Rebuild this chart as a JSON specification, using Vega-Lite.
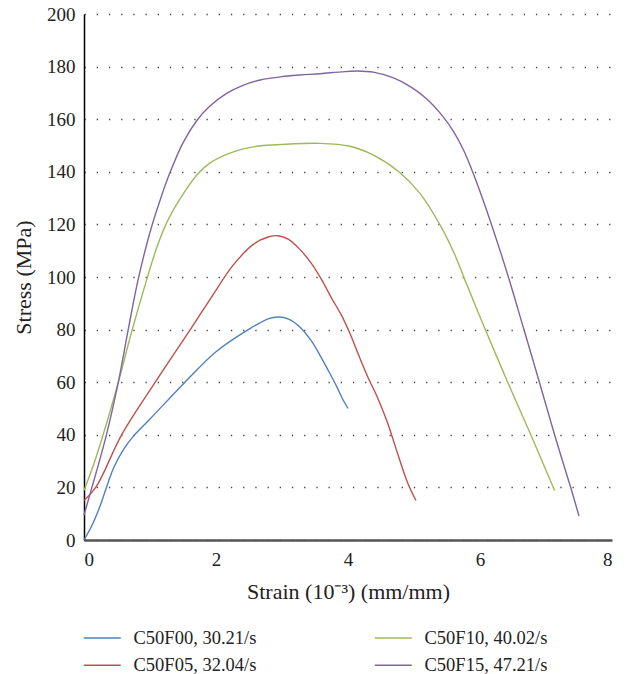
{
  "$schema": "https://vega.github.io/schema/vega-lite/v6.json",
  "width": 528,
  "height": 526,
  "autosize": "none",
  "padding": {"left": 84, "top": 14, "right": 15, "bottom": 134},
  "background": "white",
  "config": {
    "font": "Liberation Serif",
    "view": {"stroke": null},
    "axis": {"labelFont": "Liberation Serif", "titleFont": "Liberation Serif", "labelFontSize": 19, "titleFontSize": 22, "labelColor": "#222", "titleColor": "#222", "titleFontWeight": "normal", "ticks": false},
    "legend": {"labelFont": "Liberation Serif", "labelFontSize": 18.5, "labelColor": "#222"}
  },
  "data": {"values": [
    {"series": "C50F00, 30.21/s", "strain": 0, "stress": 0},
    {"series": "C50F00, 30.21/s", "strain": 0.12, "stress": 5.5},
    {"series": "C50F00, 30.21/s", "strain": 0.24, "stress": 12.7},
    {"series": "C50F00, 30.21/s", "strain": 0.34, "stress": 20},
    {"series": "C50F00, 30.21/s", "strain": 0.45, "stress": 27.5},
    {"series": "C50F00, 30.21/s", "strain": 0.6, "stress": 34.5},
    {"series": "C50F00, 30.21/s", "strain": 0.75, "stress": 39.5},
    {"series": "C50F00, 30.21/s", "strain": 1.0, "stress": 46},
    {"series": "C50F00, 30.21/s", "strain": 1.53, "stress": 60},
    {"series": "C50F00, 30.21/s", "strain": 2.0, "stress": 71.6},
    {"series": "C50F00, 30.21/s", "strain": 2.49, "stress": 80},
    {"series": "C50F00, 30.21/s", "strain": 2.8, "stress": 84.2},
    {"series": "C50F00, 30.21/s", "strain": 2.95, "stress": 84.8},
    {"series": "C50F00, 30.21/s", "strain": 3.1, "stress": 84},
    {"series": "C50F00, 30.21/s", "strain": 3.27, "stress": 81},
    {"series": "C50F00, 30.21/s", "strain": 3.45, "stress": 75.5},
    {"series": "C50F00, 30.21/s", "strain": 3.58, "stress": 70},
    {"series": "C50F00, 30.21/s", "strain": 3.7, "stress": 64.5},
    {"series": "C50F00, 30.21/s", "strain": 3.83, "stress": 58.3},
    {"series": "C50F00, 30.21/s", "strain": 3.92, "stress": 53.5},
    {"series": "C50F00, 30.21/s", "strain": 4.0, "stress": 50},

    {"series": "C50F05, 32.04/s", "strain": 0, "stress": 15},
    {"series": "C50F05, 32.04/s", "strain": 0.19, "stress": 20.5},
    {"series": "C50F05, 32.04/s", "strain": 0.57, "stress": 40},
    {"series": "C50F05, 32.04/s", "strain": 1.08, "stress": 60},
    {"series": "C50F05, 32.04/s", "strain": 1.61, "stress": 80},
    {"series": "C50F05, 32.04/s", "strain": 1.91, "stress": 91.5},
    {"series": "C50F05, 32.04/s", "strain": 2.26, "stress": 104.5},
    {"series": "C50F05, 32.04/s", "strain": 2.57, "stress": 112.5},
    {"series": "C50F05, 32.04/s", "strain": 2.8, "stress": 115.3},
    {"series": "C50F05, 32.04/s", "strain": 2.94, "stress": 115.7},
    {"series": "C50F05, 32.04/s", "strain": 3.1, "stress": 114.3},
    {"series": "C50F05, 32.04/s", "strain": 3.27, "stress": 110.5},
    {"series": "C50F05, 32.04/s", "strain": 3.45, "stress": 105},
    {"series": "C50F05, 32.04/s", "strain": 3.6, "stress": 99},
    {"series": "C50F05, 32.04/s", "strain": 3.75, "stress": 92},
    {"series": "C50F05, 32.04/s", "strain": 3.9, "stress": 85.5},
    {"series": "C50F05, 32.04/s", "strain": 4.03, "stress": 78.5},
    {"series": "C50F05, 32.04/s", "strain": 4.15, "stress": 71},
    {"series": "C50F05, 32.04/s", "strain": 4.3, "stress": 62},
    {"series": "C50F05, 32.04/s", "strain": 4.45, "stress": 54},
    {"series": "C50F05, 32.04/s", "strain": 4.6, "stress": 44.5},
    {"series": "C50F05, 32.04/s", "strain": 4.75, "stress": 33},
    {"series": "C50F05, 32.04/s", "strain": 4.9, "stress": 22},
    {"series": "C50F05, 32.04/s", "strain": 5.03, "stress": 15},

    {"series": "C50F10, 40.02/s", "strain": 0, "stress": 18.8},
    {"series": "C50F10, 40.02/s", "strain": 0.15, "stress": 29},
    {"series": "C50F10, 40.02/s", "strain": 0.29, "stress": 40},
    {"series": "C50F10, 40.02/s", "strain": 0.52, "stress": 60},
    {"series": "C50F10, 40.02/s", "strain": 0.72, "stress": 79},
    {"series": "C50F10, 40.02/s", "strain": 0.95, "stress": 99},
    {"series": "C50F10, 40.02/s", "strain": 1.1, "stress": 111},
    {"series": "C50F10, 40.02/s", "strain": 1.25, "stress": 120.5},
    {"series": "C50F10, 40.02/s", "strain": 1.45, "stress": 129.5},
    {"series": "C50F10, 40.02/s", "strain": 1.71, "stress": 138.8},
    {"series": "C50F10, 40.02/s", "strain": 1.9, "stress": 143.2},
    {"series": "C50F10, 40.02/s", "strain": 2.16, "stress": 146.6},
    {"series": "C50F10, 40.02/s", "strain": 2.4, "stress": 148.6},
    {"series": "C50F10, 40.02/s", "strain": 2.62, "stress": 149.7},
    {"series": "C50F10, 40.02/s", "strain": 3.0, "stress": 150.4},
    {"series": "C50F10, 40.02/s", "strain": 3.58, "stress": 150.8},
    {"series": "C50F10, 40.02/s", "strain": 4.03, "stress": 149.7},
    {"series": "C50F10, 40.02/s", "strain": 4.38, "stress": 146.4},
    {"series": "C50F10, 40.02/s", "strain": 4.77, "stress": 140},
    {"series": "C50F10, 40.02/s", "strain": 5.09, "stress": 131.8},
    {"series": "C50F10, 40.02/s", "strain": 5.39, "stress": 120},
    {"series": "C50F10, 40.02/s", "strain": 5.6, "stress": 109.5},
    {"series": "C50F10, 40.02/s", "strain": 5.77, "stress": 99},
    {"series": "C50F10, 40.02/s", "strain": 6.08, "stress": 80},
    {"series": "C50F10, 40.02/s", "strain": 6.42, "stress": 60},
    {"series": "C50F10, 40.02/s", "strain": 6.77, "stress": 40},
    {"series": "C50F10, 40.02/s", "strain": 7.13, "stress": 18.8},

    {"series": "C50F15, 47.21/s", "strain": 0, "stress": 9.5},
    {"series": "C50F15, 47.21/s", "strain": 0.12, "stress": 20},
    {"series": "C50F15, 47.21/s", "strain": 0.34, "stress": 40},
    {"series": "C50F15, 47.21/s", "strain": 0.52, "stress": 60},
    {"series": "C50F15, 47.21/s", "strain": 0.67, "stress": 80},
    {"series": "C50F15, 47.21/s", "strain": 0.82, "stress": 99},
    {"series": "C50F15, 47.21/s", "strain": 1.0, "stress": 117},
    {"series": "C50F15, 47.21/s", "strain": 1.15, "stress": 129},
    {"series": "C50F15, 47.21/s", "strain": 1.3, "stress": 139.5},
    {"series": "C50F15, 47.21/s", "strain": 1.5, "stress": 151},
    {"series": "C50F15, 47.21/s", "strain": 1.71, "stress": 159.5},
    {"series": "C50F15, 47.21/s", "strain": 1.9, "stress": 164.8},
    {"series": "C50F15, 47.21/s", "strain": 2.16, "stress": 169.8},
    {"series": "C50F15, 47.21/s", "strain": 2.4, "stress": 172.8},
    {"series": "C50F15, 47.21/s", "strain": 2.67, "stress": 174.9},
    {"series": "C50F15, 47.21/s", "strain": 3.0, "stress": 176.2},
    {"series": "C50F15, 47.21/s", "strain": 3.27, "stress": 176.8},
    {"series": "C50F15, 47.21/s", "strain": 3.58, "stress": 177.3},
    {"series": "C50F15, 47.21/s", "strain": 3.9, "stress": 178},
    {"series": "C50F15, 47.21/s", "strain": 4.13, "stress": 178.3},
    {"series": "C50F15, 47.21/s", "strain": 4.4, "stress": 177.8},
    {"series": "C50F15, 47.21/s", "strain": 4.69, "stress": 175.7},
    {"series": "C50F15, 47.21/s", "strain": 4.95, "stress": 172.3},
    {"series": "C50F15, 47.21/s", "strain": 5.19, "stress": 167.8},
    {"series": "C50F15, 47.21/s", "strain": 5.44, "stress": 161},
    {"series": "C50F15, 47.21/s", "strain": 5.6, "stress": 155.3},
    {"series": "C50F15, 47.21/s", "strain": 5.75, "stress": 148.3},
    {"series": "C50F15, 47.21/s", "strain": 5.88, "stress": 140.5},
    {"series": "C50F15, 47.21/s", "strain": 6.0, "stress": 132.5},
    {"series": "C50F15, 47.21/s", "strain": 6.18, "stress": 119.5},
    {"series": "C50F15, 47.21/s", "strain": 6.43, "stress": 100},
    {"series": "C50F15, 47.21/s", "strain": 6.66, "stress": 80.5},
    {"series": "C50F15, 47.21/s", "strain": 6.9, "stress": 60},
    {"series": "C50F15, 47.21/s", "strain": 7.13, "stress": 40},
    {"series": "C50F15, 47.21/s", "strain": 7.38, "stress": 19.5},
    {"series": "C50F15, 47.21/s", "strain": 7.5, "stress": 9.1}
  ]},
  "mark": {"type": "line", "interpolate": "catmull-rom", "strokeWidth": 1.4},
  "encoding": {
    "x": {
      "field": "strain", "type": "quantitative",
      "scale": {"domain": [0, 8], "nice": false},
      "axis": {"values": [0, 2, 4, 6, 8], "grid": false, "title": "Strain (10⁻³) (mm/mm)", "domainColor": "#555", "domainWidth": 2.5, "labelPadding": 10, "titlePadding": 12}
    },
    "y": {
      "field": "stress", "type": "quantitative",
      "scale": {"domain": [0, 200], "nice": false},
      "axis": {"values": [0, 20, 40, 60, 80, 100, 120, 140, 160, 180, 200], "grid": true, "gridColor": "#444", "gridWidth": 1.3, "gridDash": [1.3, 10.9], "title": "Stress (MPa)", "domainColor": "#000", "domainWidth": 1.5, "labelPadding": 9, "titlePadding": 11}
    },
    "color": {
      "field": "series", "type": "nominal",
      "scale": {
        "domain": ["C50F00, 30.21/s", "C50F10, 40.02/s", "C50F05, 32.04/s", "C50F15, 47.21/s"],
        "range": ["#4F81BD", "#9BBB59", "#C0504D", "#8064A2"]
      },
      "legend": {
        "title": null, "orient": "none", "legendX": 8.25, "legendY": 613.75,
        "direction": "horizontal", "columns": 2, "columnPadding": 114, "rowPadding": 7.5,
        "symbolType": "M-2,0H2", "symbolSize": 342, "symbolStrokeWidth": 1.4, "labelOffset": 21.25
      }
    }
  }
}
